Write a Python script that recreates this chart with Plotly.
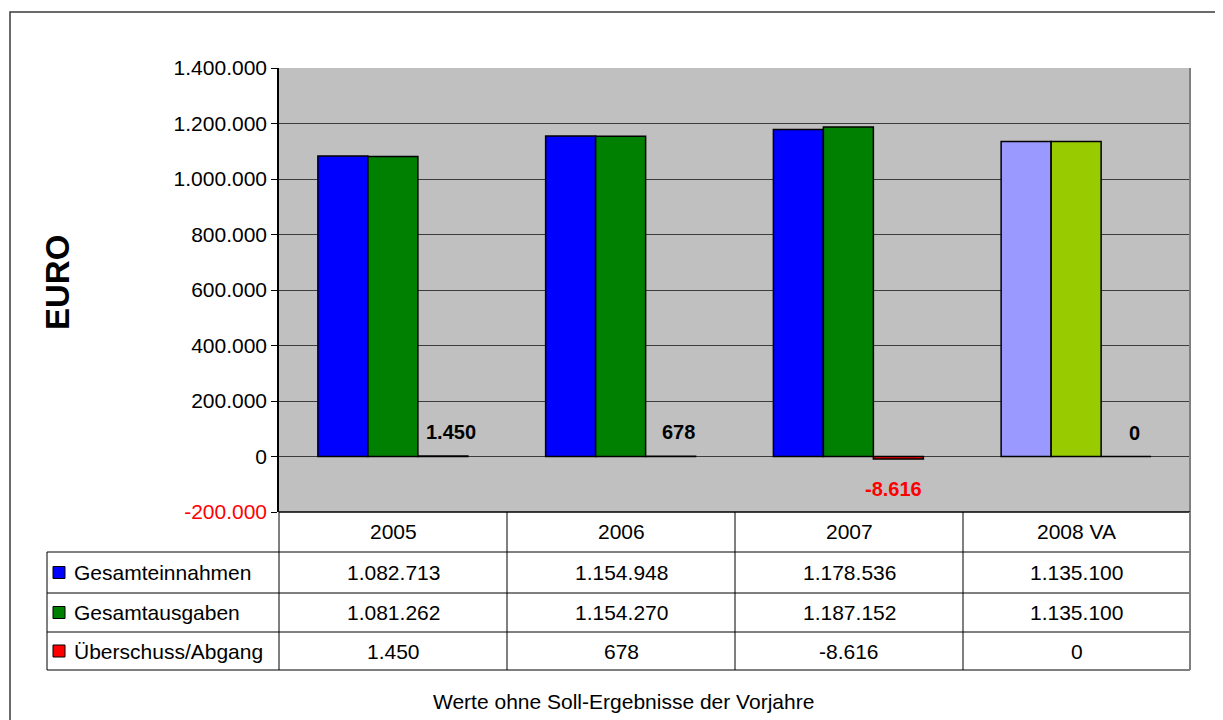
import plotly.graph_objects as go

# ---- data ----
categories = ["2005", "2006", "2007", "2008 VA"]
series_names = ["Gesamteinnahmen", "Gesamtausgaben", "Überschuss/Abgang"]
einnahmen = [1082713, 1154948, 1178536, 1135100]
ausgaben = [1081262, 1154270, 1187152, 1135100]
ueberschuss = [1450, 678, -8616, 0]
y_ticks = [-200000, 0, 200000, 400000, 600000, 800000, 1000000, 1200000, 1400000]
caption = "Werte ohne Soll-Ergebnisse der Vorjahre"
axis_title = "EURO"

# ---- styling ----
col_blue = ["#0000FF", "#0000FF", "#0000FF", "#9999FF"]
col_green = ["#008000", "#008000", "#008000", "#99CC00"]
col_red = "#FF0000"
legend_cols = ["#0000FF", "#008000", "#FF0000"]
FONT = "Liberation Sans, Arial, sans-serif"
OFF = 8  # page body margin
W, H = 1223 - OFF, 720 - OFF
# plot area in screen pixels
L, R, T, B = 279, 1190, 68, 512
BARGAP = 0.3414
FS = 21


def fmt(v):
    s = f"{abs(v):,}".replace(",", ".")
    return ("-" if v < 0 else "") + s


def px(x):
    return (x - L) / (R - L)


def py(y):
    return (B - y) / (B - T)


fig = go.Figure()
series = [einnahmen, ausgaben, ueberschuss]
colors = [col_blue, col_green, col_red]
for name, vals, c in zip(series_names, series, colors):
    fig.add_trace(go.Bar(
        x=categories, y=vals, name=name,
        marker=dict(color=c, line=dict(color="black", width=1.5)),
        showlegend=False, hoverinfo="skip",
    ))

ticktext = []
for v in y_ticks:
    t = fmt(v)
    if v < 0:
        t = f'<span style="color:#FF0000">{t}</span>'
    ticktext.append(t)

fig.update_layout(
    width=W, height=H,
    margin=dict(l=L - OFF, r=W - (R - OFF), t=T - OFF, b=H - (B - OFF)),
    paper_bgcolor="white", plot_bgcolor="#C0C0C0",
    barmode="group", bargap=BARGAP, bargroupgap=0,
    font=dict(family=FONT, color="black", size=FS),
    xaxis=dict(type="category", showticklabels=False, ticks="",
               showgrid=False, zeroline=False, showline=False,
               range=[-0.5, 3.5]),
    yaxis=dict(range=[-200000, 1400000], tickvals=y_ticks, ticktext=ticktext,
               ticks="outside", ticklen=6, tickcolor="black",
               showline=True, linecolor="black", linewidth=1.5,
               showgrid=True, gridcolor="#3c3c3c", gridwidth=1,
               zeroline=False, tickfont=dict(size=FS, family=FONT)),
)

shapes = []
# plot area right border (gray)
shapes.append(dict(type="line", xref="paper", yref="paper", x0=1, x1=1, y0=0, y1=1,
                   line=dict(color="#808080", width=2)))
# outer chart border
shapes.append(dict(type="rect", xref="paper", yref="paper",
                   x0=px(10), x1=px(1250), y0=py(12), y1=py(760),
                   line=dict(color="#3a3a3a", width=1.5)))

# data table lines
row_y = [512, 552, 593, 632, 670]
col_x = [279, 507, 735, 963, 1190]
lc = dict(color="black", width=1)
shapes.append(dict(type="line", xref="paper", yref="paper", x0=px(279), x1=px(1190),
                   y0=py(512), y1=py(512), line=dict(color="black", width=1.5)))
for yy in row_y[1:]:
    shapes.append(dict(type="line", xref="paper", yref="paper", x0=px(47), x1=px(1190),
                       y0=py(yy), y1=py(yy), line=lc))
for xx in col_x:
    shapes.append(dict(type="line", xref="paper", yref="paper", x0=px(xx), x1=px(xx),
                       y0=py(512), y1=py(670),
                       line=dict(color="#808080" if xx == 1190 else "black",
                                 width=2 if xx == 1190 else 1)))
shapes.append(dict(type="line", xref="paper", yref="paper", x0=px(47), x1=px(47),
                   y0=py(552), y1=py(670), line=lc))

annotations = []
# header row
for i, cat in enumerate(categories):
    cx = (col_x[i] + col_x[i + 1]) / 2
    annotations.append(dict(xref="paper", yref="paper", x=px(cx), y=py(531),
                            text=cat, showarrow=False, xanchor="center", yanchor="middle",
                            font=dict(size=FS, family=FONT)))
# data rows
for r, (name, vals, lcol) in enumerate(zip(series_names, series, legend_cols)):
    cy = (row_y[r + 1] + row_y[r + 2]) / 2
    shapes.append(dict(type="rect", xref="paper", yref="paper",
                       x0=px(53), x1=px(65), y0=py(cy - 6), y1=py(cy + 6),
                       fillcolor=lcol, line=dict(color="black", width=1)))
    annotations.append(dict(xref="paper", yref="paper", x=px(72), y=py(cy),
                            text=name, showarrow=False, xanchor="left", yanchor="middle",
                            font=dict(size=FS, family=FONT)))
    for i, v in enumerate(vals):
        cx = (col_x[i] + col_x[i + 1]) / 2
        annotations.append(dict(xref="paper", yref="paper", x=px(cx), y=py(cy),
                                text=fmt(v), showarrow=False, xanchor="center",
                                yanchor="middle", font=dict(size=FS, family=FONT)))

# data labels on third series
bar_w = (1 - BARGAP) / 3
for i, v in enumerate(ueberschuss):
    neg = v < 0
    annotations.append(dict(xref="x", yref="y", x=i + bar_w, y=v,
                            text=f"<b>{fmt(v)}</b>", showarrow=False,
                            xanchor="center", yanchor="middle",
                            xshift=(-5 if neg else 8), yshift=(-30 if neg else 24),
                            font=dict(size=20, family=FONT,
                                      color="#FF0000" if neg else "black")))

# axis title
annotations.append(dict(xref="paper", yref="paper", x=px(57), y=py(283),
                        text=f"<b>{axis_title}</b>", textangle=-90, showarrow=False,
                        xanchor="center", yanchor="middle",
                        font=dict(size=33, family=FONT)))
# caption
annotations.append(dict(xref="paper", yref="paper", x=px(623), y=py(701),
                        text=caption, showarrow=False, xanchor="center", yanchor="middle",
                        font=dict(size=FS, family=FONT)))

fig.update_layout(shapes=shapes, annotations=annotations)
fig.write_html("out.html")
